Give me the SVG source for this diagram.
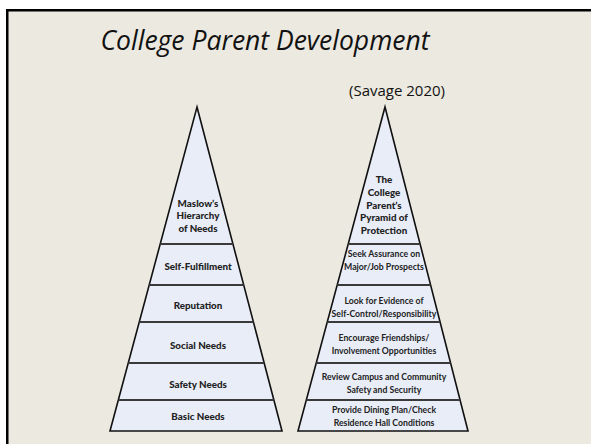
<svg xmlns="http://www.w3.org/2000/svg" width="591" height="444" viewBox="0 0 591 444">
<defs>
<style>
.bg{fill:#ffffff}
.slide{fill:#ECE9E0;stroke:#000;stroke-width:2.5}
.title{font-family:"Open Sans","Liberation Sans",sans-serif;font-style:italic;font-size:26.5px;fill:#111;text-anchor:middle}
.cite{font-family:"Open Sans","Liberation Sans",sans-serif;font-size:15px;fill:#111;text-anchor:middle}
.tier{fill:#E9EDF8}
.outline{fill:none;stroke:#111;stroke-width:1.6;stroke-linejoin:miter}
.div{stroke:#3a3a3a;stroke-width:2}
.h{font-family:Lato,"Liberation Sans",sans-serif;font-weight:900;font-size:9.8px;fill:#222;text-anchor:middle}
.t{font-family:Lato,"Liberation Sans",sans-serif;font-weight:700;font-size:8.7px;fill:#222;text-anchor:middle}
</style>
</defs>
<rect class="bg" x="0" y="0" width="591" height="444"/>
<rect class="slide" x="7.25" y="10.25" width="600" height="450"/>
<text class="title" x="265" y="50">College Parent Development</text>
<text class="cite" x="397" y="96">(Savage 2020)</text>

<g id="maslow">
<g id="m-top"><polygon class="tier" points="197,107 232.9,244 160.2,244"/>
<text class="h" x="198" y="206.5">Maslow’s</text><text class="h" x="198" y="219">Hierarchy</text><text class="h" x="198" y="231.5">of Needs</text></g>
<g id="m-self"><polygon class="tier" points="160.2,244 232.9,244 243.7,285 149.2,285"/><text class="h" x="198" y="269.5">Self-Fulfillment</text></g>
<g id="m-rep"><polygon class="tier" points="149.2,285 243.7,285 253.4,322 139.3,322"/><text class="h" x="198" y="308.5">Reputation</text></g>
<g id="m-social"><polygon class="tier" points="139.3,322 253.4,322 264.2,363 128.3,363"/><text class="h" x="198" y="348.5">Social Needs</text></g>
<g id="m-safety"><polygon class="tier" points="128.3,363 264.2,363 273.9,400 118.3,400"/><text class="h" x="198" y="387.5">Safety Needs</text></g>
<g id="m-basic"><polygon class="tier" points="118.3,400 273.9,400 282,431 110,431"/><text class="h" x="198" y="420">Basic Needs</text></g>
<polygon class="outline" points="197,107 282,431 110,431"/>
<line class="div" x1="160.2" y1="244" x2="232.9" y2="244"/>
<line class="div" x1="149.2" y1="285" x2="243.7" y2="285"/>
<line class="div" x1="139.3" y1="322" x2="253.4" y2="322"/>
<line class="div" x1="128.3" y1="363" x2="264.2" y2="363"/>
<line class="div" x1="118.3" y1="400" x2="273.9" y2="400"/>
</g>

<g id="parent">
<g id="p-top"><polygon class="tier" points="385,107 420.1,244 348.2,244"/>
<text class="h" x="384" y="183">The</text><text class="h" x="384" y="196">College</text><text class="h" x="384" y="208.5">Parent’s</text><text class="h" x="384" y="221">Pyramid of</text><text class="h" x="384" y="233.5">Protection</text></g>
<g id="p-major"><polygon class="tier" points="348.2,244 420.1,244 430.6,285 337.2,285"/>
<text class="t" x="384" y="257">Seek Assurance on</text><text class="t" x="384" y="270">Major/Job Prospects</text></g>
<g id="p-self"><polygon class="tier" points="337.2,285 430.6,285 440.1,322 327.3,322"/>
<text class="t" x="384" y="304">Look for Evidence of</text><text class="t" x="384" y="317">Self-Control/Responsibility</text></g>
<g id="p-friend"><polygon class="tier" points="327.3,322 440.1,322 450.6,363 316.3,363"/>
<text class="t" x="384" y="341">Encourage Friendships/</text><text class="t" x="384" y="354">Involvement Opportunities</text></g>
<g id="p-safety"><polygon class="tier" points="316.3,363 450.6,363 460.1,400 306.3,400"/>
<text class="t" x="384" y="380">Review Campus and Community</text><text class="t" x="384" y="392.5">Safety and Security</text></g>
<g id="p-basic"><polygon class="tier" points="306.3,400 460.1,400 468,431 298,431"/>
<text class="t" x="384" y="413">Provide Dining Plan/Check</text><text class="t" x="384" y="425.5">Residence Hall Conditions</text></g>
<polygon class="outline" points="385,107 468,431 298,431"/>
<line class="div" x1="348.2" y1="244" x2="420.1" y2="244"/>
<line class="div" x1="337.2" y1="285" x2="430.6" y2="285"/>
<line class="div" x1="327.3" y1="322" x2="440.1" y2="322"/>
<line class="div" x1="316.3" y1="363" x2="450.6" y2="363"/>
<line class="div" x1="306.3" y1="400" x2="460.1" y2="400"/>
</g>
</svg>
